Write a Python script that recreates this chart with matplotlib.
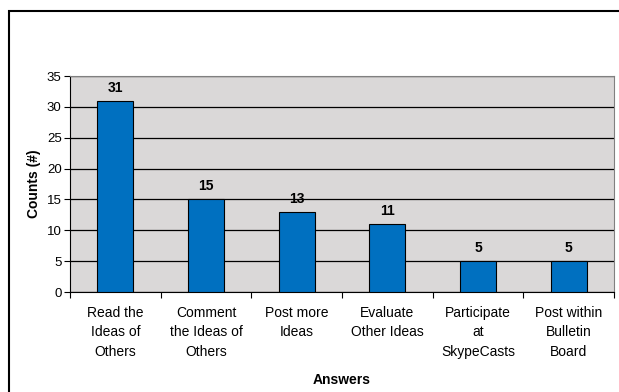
import matplotlib
matplotlib.use("Agg")
import matplotlib.pyplot as plt
from matplotlib.patches import Rectangle

plt.rcParams['font.family'] = ['Liberation Sans', 'DejaVu Sans']

categories = ["Read the\nIdeas of\nOthers", "Comment\nthe Ideas of\nOthers", "Post more\nIdeas",
              "Evaluate\nOther Ideas", "Participate\nat\nSkypeCasts", "Post within\nBulletin\nBoard"]
counts = [31, 15, 13, 11, 5, 5]
yticks = [0, 5, 10, 15, 20, 25, 30, 35]

fig = plt.figure(figsize=(6.19, 3.92), dpi=100, facecolor='white')
ax = fig.add_axes([0.1131, 0.255, 0.8789, 0.551])

# outer chart frame (cut off at right/bottom)
fig.patches.append(Rectangle((9 / 619, -0.1), 1.2, 1 - 11 / 392 + 0.1, transform=fig.transFigure,
                             fill=False, edgecolor='black', linewidth=1.5))

ax.set_facecolor('#DAD8D8')
x = list(range(len(categories)))
bars = ax.bar(x, counts, width=0.4, color='#0070C0', edgecolor='black', linewidth=0.8, zorder=3)
for xi, v in zip(x, counts):
    ax.text(xi, v + 1.0, str(v), ha='center', va='bottom', fontsize=10, fontweight='bold')

ax.set_xlim(-0.5, len(categories) - 0.5)
ax.set_ylim(0, 35)
ax.set_yticks(yticks)
ax.tick_params(axis='y', labelsize=9.5, length=4, width=0.8, pad=2)
ax.yaxis.grid(True, color='black', linewidth=0.9, zorder=1)
ax.set_axisbelow(True)

ax.set_xticks([i - 0.5 for i in range(len(categories) + 1)])
ax.set_xticklabels([])
ax.set_xticks(x, minor=True)
ax.set_xticklabels(categories, minor=True, fontsize=10, linespacing=1.5)
ax.tick_params(axis='x', which='major', length=4, width=0.8)
ax.tick_params(axis='x', which='minor', length=0, pad=10)

for side in ['top', 'right']:
    ax.spines[side].set_color('#808080')
ax.spines['left'].set_color('black')
ax.spines['bottom'].set_color('black')

ax.set_ylabel("Counts (#)", fontsize=10, fontweight='bold', labelpad=4)
ax.set_xlabel("Answers", fontsize=10, fontweight='bold', labelpad=10)

fig.savefig("out.png", dpi=100)
